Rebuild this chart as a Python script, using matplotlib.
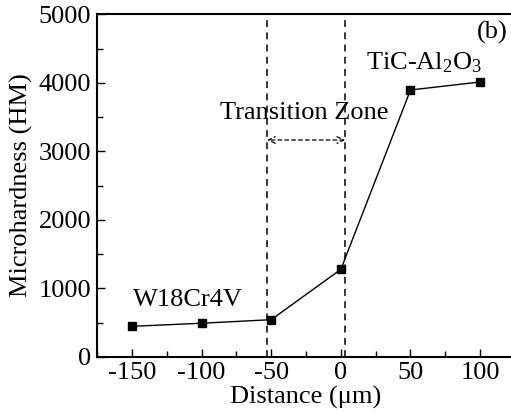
#!/usr/bin/env python3
"""Microhardness profile across the W18Cr4V / TiC-Al2O3 joint (panel b)."""
import matplotlib
matplotlib.use("Agg")
import matplotlib.pyplot as plt
from matplotlib.ticker import MultipleLocator

# data
distance_um = [-150, -100, -50, 0, 50, 100]
hardness_hm = [445, 490, 542, 1277, 3895, 4012]
zone_edges = [-53, 3]          # dashed boundaries of the transition zone
x_ticks = [-150, -100, -50, 0, 50, 100]
y_ticks = [0, 1000, 2000, 3000, 4000, 5000]

plt.rcParams["font.family"] = ["Liberation Serif", "DejaVu Serif"]
plt.rcParams["mathtext.default"] = "regular"
plt.rcParams["axes.unicode_minus"] = False

fs = 19
fig = plt.figure(figsize=(5.11, 4.17), dpi=100)
ax = fig.add_axes([96.7 / 511, 60.2 / 417, 417.5 / 511, 342.5 / 417])

ax.plot(distance_um, hardness_hm, color="black", lw=1.0, marker="s", ms=5.5,
        mec="black", mfc="black", zorder=3)

for xe in zone_edges:
    ax.axvline(xe, color="black", lw=1.1, ls=(0, (4.5, 3.5)), zorder=2)

ax.annotate("", xy=(zone_edges[0], 3165), xytext=(zone_edges[1], 3165),
            arrowprops=dict(arrowstyle="<->", color="black", lw=0.9,
                            ls=(0, (3, 2.5)), shrinkA=0, shrinkB=0,
                            mutation_scale=12))
ax.text(-26, 3560, "Transition Zone", ha="center", va="center", fontsize=fs)
ax.text(-110, 830, "W18Cr4V", ha="center", va="center", fontsize=fs)
ax.text(60, 4290, "TiC-Al$_2$O$_3$", ha="center", va="center", fontsize=fs)
ax.text(109, 4740, "(b)", ha="center", va="center", fontsize=fs)

ax.set_xlim(-175.4, 124.5)
ax.set_ylim(0, 5000)
ax.set_xticks(x_ticks)
ax.set_yticks(y_ticks)
ax.xaxis.set_minor_locator(MultipleLocator(25))
ax.yaxis.set_minor_locator(MultipleLocator(500))
ax.tick_params(which="both", direction="in", labelsize=fs, width=1.0)
ax.tick_params(which="major", length=6, pad=4)
ax.tick_params(which="minor", length=4)
for sp in ax.spines.values():
    sp.set_linewidth(1.5)

ax.set_xlabel("Distance (\u03bcm)", fontsize=fs, labelpad=1)
ax.set_ylabel("Microhardness (HM)", fontsize=fs, labelpad=4)

fig.savefig("out.png", dpi=100)
